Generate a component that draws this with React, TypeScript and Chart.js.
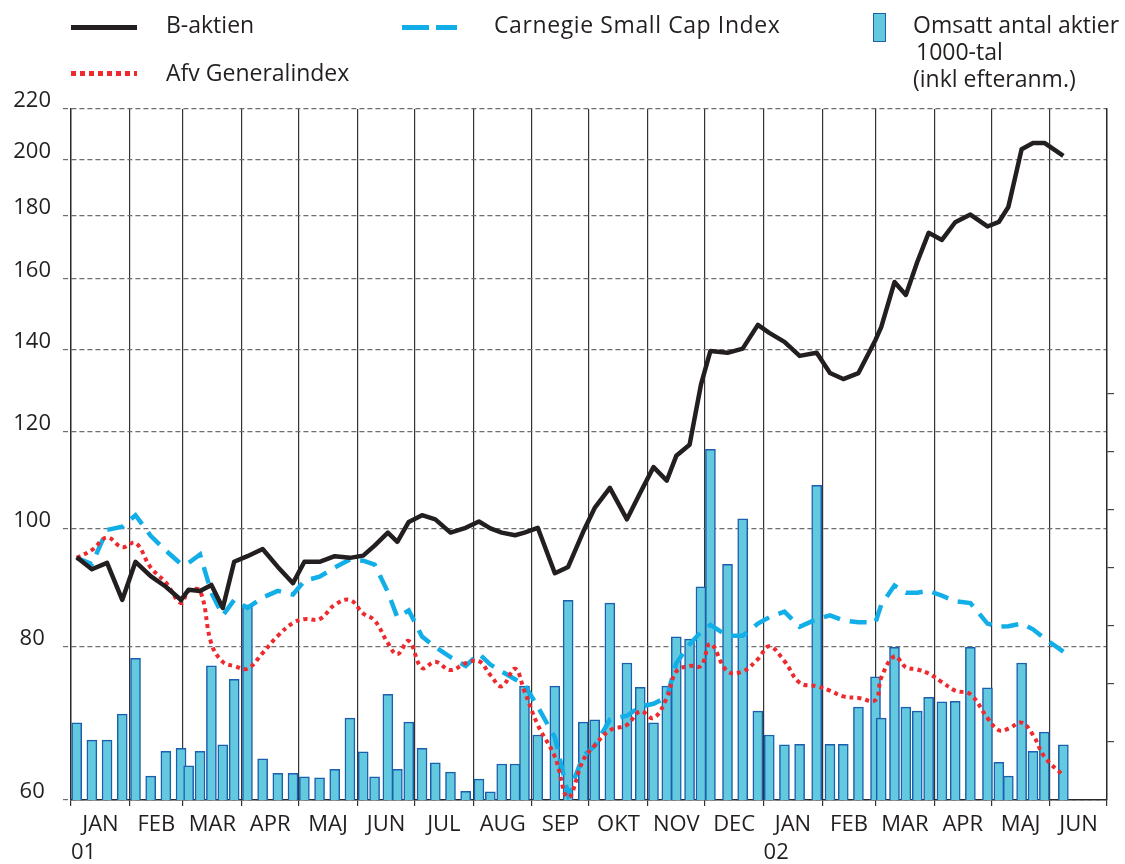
import React, { useEffect, useRef } from 'react';
import { Chart, registerables } from 'chart.js';

Chart.register(...registerables);

const FONT = '"Open Sans", "Noto Sans", sans-serif';
const INK = '#231f20';
const BLUE = '#12aee8';
const RED = '#ee2a2e';
const BAR_FILL = '#63c9df';
const BAR_EDGE = '#1b5fae';

// ---- data ----
const monthLabels = ['JAN', 'FEB', 'MAR', 'APR', 'MAJ', 'JUN', 'JUL', 'AUG', 'SEP', 'OKT', 'NOV', 'DEC', 'JAN', 'FEB', 'MAR', 'APR', 'MAJ', 'JUN'];
const monthDays = [31, 28, 31, 30, 31, 30, 31, 31, 30, 31, 30, 31, 31, 28, 31, 30, 31, 30];
const yearLabels = ['01', '02'];
const yearStartMonth = [0, 12];
const indexTicks = [60, 80, 100, 120, 140, 160, 180, 200, 220];
const volumeTicks = [100, 200, 300, 400, 500, 600, 700];

// observation day (days since 2001-01-01)
const obsDay = [3, 11, 19, 27, 34, 42, 50, 58, 62, 68, 74, 80, 86, 93, 101, 109, 117, 123, 131, 139, 147, 154, 160, 167, 172, 178, 185, 192, 200, 208, 215, 221, 227, 234, 239, 246, 255, 262, 270, 276, 284, 293, 300, 307, 314, 319, 326, 332, 337, 346, 354, 362, 368, 376, 384, 393, 400, 407, 415, 424, 427, 434, 440, 446, 452, 459, 466, 474, 483, 489, 494, 501, 507, 513, 523];

const bAktien = [94.7, 92.6, 93.7, 87.4, 93.9, 91.4, 89.6, 87.4, 89.1, 88.9,
  89.9, 86.1, 93.9, 94.9, 96.2, 93.0, 90.2, 93.9, 93.9, 94.9,
  94.6, 95.0, 96.8, 99.2, 97.5, 101.2, 102.5, 101.7, 99.2, 100.1,
  101.3, 100.0, 99.2, 98.7, 99.2, 100.1, 91.9, 93.0, 99.4, 103.9,
  107.9, 101.7, 106.9, 112.2, 109.4, 114.6, 117.0, 131.0, 139.6, 139.1,
  140.2, 146.6, 144.4, 142.0, 138.3, 139.1, 133.9, 132.4, 133.9, 142.5,
  146.0, 158.9, 155.1, 165.0, 174.3, 172.0, 177.8, 180.4, 176.4, 177.9,
  183.0, 204.0, 206.4, 206.4, 201.4];

const carnegie = [94.6, 93.5, 99.7, 100.3, 102.5, 98.6, 95.9, 93.5, 93.7, 95.2,
  88.6, 84.9, 87.4, 86.1, 87.8, 88.9, 88.3, 90.6, 91.3, 92.9,
  94.3, 94.1, 93.4, 88.7, 84.6, 85.7, 81.6, 80.0, 78.5, 77.2,
  79.0, 77.4, 76.4, 75.3, 74.5, 71.5, 67.5, 60.6, 65.2, 66.4,
  69.8, 70.3, 71.5, 71.9, 72.8, 77.6, 80.4, 82.3, 83.4, 81.7,
  81.7, 83.6, 84.6, 85.5, 83.1, 84.3, 84.9, 84.1, 83.8, 83.8,
  86.6, 89.8, 88.6, 88.6, 88.9, 88.1, 87.2, 86.9, 83.6, 83.1,
  83.2, 83.6, 82.7, 81.3, 79.3];

const afv = [94.6, 96.0, 98.3, 96.5, 97.3, 92.9, 90.3, 86.9, 88.9, 88.9,
  80.5, 77.8, 77.2, 76.8, 79.1, 81.7, 83.7, 84.3, 84.3, 86.6,
  87.4, 85.2, 84.1, 80.6, 78.9, 80.9, 76.9, 77.8, 76.6, 77.6,
  77.9, 75.9, 74.3, 76.8, 73.6, 69.1, 65.1, 60.3, 64.7, 66.5,
  68.4, 69.1, 70.9, 70.0, 72.7, 76.4, 77.2, 77.2, 80.5, 76.4,
  76.4, 78.2, 80.1, 77.9, 74.8, 74.3, 73.7, 72.9, 72.7, 72.4,
  75.5, 78.6, 77.0, 76.7, 76.1, 74.9, 73.7, 73.2, 70.0, 68.4,
  68.6, 69.4, 67.8, 65.1, 62.8];

const volume = [133, 103, 103, 148, 244, 41, 84, 89, 59, 84,
  231, 95, 208, 336, 71, 46, 46, 40, 38, 53,
  141, 83, 40, 182, 53, 134, 89, 64, 48, 15,
  36, 14, 62, 62, 196, 112, 196, 344, 134, 138,
  339, 236, 194, 133, 196, 281, 277, 367, 604, 406,
  484, 153, 112, 95, 96, 542, 96, 96, 160, 212,
  141, 263, 160, 153, 177, 169, 170, 263, 193, 65,
  41, 236, 84, 117, 95];

const seriesNames = ['B-aktien', 'Afv Generalindex', 'Carnegie Small Cap Index'];
const volumeLegend = ['Omsatt antal aktier', '1000-tal', '(inkl efteranm.)'];

export default function App() {
  const ref = useRef<HTMLCanvasElement>(null);

  useEffect(() => {
    const starts: number[] = [];
    let acc = 0;
    monthDays.forEach((d) => { starts.push(acc); acc += d; });
    const total = acc;
    const boundaries = [...starts, total];
    const mids = starts.map((s, i) => s + monthDays[i] / 2);
    const midLabel = new Map<number, string>(mids.map((m, i) => [m, monthLabels[i]]));
    const boundarySet = new Set<number>(boundaries);
    const xTicks = [...boundaries, ...mids].sort((a, b) => a - b);
    const pts = (arr: number[]) => arr.map((v, i) => ({ x: obsDay[i], y: v }));

    const yearPlugin = {
      id: 'yearLabels',
      afterDraw(chart: any) {
        const { ctx, chartArea } = chart;
        const xs = chart.scales.x;
        ctx.save();
        ctx.font = `22px ${FONT}`;
        ctx.fillStyle = INK;
        ctx.textAlign = 'left';
        ctx.textBaseline = 'middle';
        yearLabels.forEach((lab, i) => {
          const px = xs.getPixelForValue(starts[yearStartMonth[i]]);
          ctx.fillText(lab, px, chartArea.bottom + 53);
        });
        ctx.restore();
      },
    };

    const chart = new Chart(ref.current as HTMLCanvasElement, {
      type: 'line',
      data: {
        datasets: [
          {
            type: 'line', label: seriesNames[0], data: pts(bAktien), yAxisID: 'y',
            borderColor: INK, borderWidth: 4.5, pointRadius: 0, tension: 0,
            borderJoinStyle: 'round', order: 1,
          },
          {
            type: 'line', label: seriesNames[1], data: pts(afv), yAxisID: 'y',
            borderColor: RED, borderWidth: 4, pointRadius: 0, tension: 0.4,
            borderDash: [4, 4], borderCapStyle: 'butt', order: 2,
          },
          {
            type: 'line', label: seriesNames[2], data: pts(carnegie), yAxisID: 'y',
            borderColor: BLUE, borderWidth: 4.5, pointRadius: 0, tension: 0,
            borderDash: [17, 10], borderCapStyle: 'butt', order: 3,
          },
          {
            type: 'bar', label: volumeLegend.join(' '), data: pts(volume), yAxisID: 'y2',
            backgroundColor: BAR_FILL, borderColor: BAR_EDGE, borderWidth: 1.5,
            barThickness: 10, order: 10,
          } as any,
        ],
      },
      options: {
        responsive: false,
        animation: false,
        devicePixelRatio: 1,
        layout: { padding: { top: 109, left: 0, right: 0, bottom: 0 } },
        plugins: { legend: { display: false }, tooltip: { enabled: false } },
        scales: {
          x: {
            type: 'linear', min: 0, max: total, offset: false,
            afterBuildTicks: (s: any) => { s.ticks = xTicks.map((v) => ({ value: v })); },
            afterFit: (s: any) => { s.height = 64; },
            grid: {
              offset: false,
              color: (c: any) => (boundarySet.has(c.tick?.value) ? '#333333' : 'rgba(0,0,0,0)'),
              lineWidth: 1.2, tickLength: 6,
            },
            border: { display: true, color: '#2a2a2a', width: 1.4 },
            ticks: {
              autoSkip: false, maxRotation: 0, minRotation: 0, padding: 6,
              color: INK, font: { family: FONT, size: 22 },
              callback: (v: any) => midLabel.get(Number(v)) ?? '',
            },
          },
          y: {
            type: 'logarithmic', position: 'left', min: 60, max: 220,
            afterBuildTicks: (s: any) => { s.ticks = indexTicks.map((v) => ({ value: v })); },
            afterFit: (s: any) => { s.width = 71; },
            grid: {
              color: '#6e6e6e', lineWidth: 1.2, tickBorderDash: [5, 3], tickLength: 8,
            },
            border: { display: true, color: '#2a2a2a', width: 1.4, dash: [5, 3] },
            ticks: {
              crossAlign: 'center', padding: 12, labelOffset: -8,
              color: INK, font: { family: FONT, size: 22 },
              callback: (v: any) => String(v),
            },
          },
          y2: {
            type: 'linear', position: 'right', min: 0, max: 1190,
            afterBuildTicks: (s: any) => { s.ticks = volumeTicks.map((v) => ({ value: v })); },
            afterFit: (s: any) => { s.width = 18; },
            grid: { drawOnChartArea: false, color: '#444444', lineWidth: 1.2, tickLength: 7 },
            border: { display: true, color: '#2a2a2a', width: 1.4 },
            ticks: { display: false },
          },
        },
      } as any,
      plugins: [yearPlugin],
    });
    return () => chart.destroy();
  }, []);

  const text: React.CSSProperties = {
    position: 'absolute', fontFamily: FONT, fontSize: 23, lineHeight: '27px',
    color: INK, whiteSpace: 'nowrap',
  };

  return (
    <div style={{ position: 'absolute', left: 0, top: 0, width: 1125, height: 864, background: '#fff', overflow: 'hidden' }}>
      <canvas ref={ref} width={1125} height={864} style={{ position: 'absolute', left: 0, top: 0 }} />
      {/* legend */}
      <div style={{ position: 'absolute', left: 71, top: 25, width: 66, height: 5, background: INK }} />
      <div style={{ ...text, left: 166, top: 11 }}>{seriesNames[0]}</div>
      <div style={{
        position: 'absolute', left: 71, top: 71, width: 66, height: 5,
        background: `repeating-linear-gradient(90deg, ${RED} 0 5px, transparent 5px 9px)`,
      }} />
      <div style={{ ...text, left: 166, top: 59 }}>{seriesNames[1]}</div>
      <div style={{ position: 'absolute', left: 402, top: 25, width: 27, height: 5, background: BLUE }} />
      <div style={{ position: 'absolute', left: 436, top: 25, width: 21, height: 5, background: BLUE }} />
      <div style={{ ...text, left: 494, top: 11, letterSpacing: '0.6px' }}>{seriesNames[2]}</div>
      <div style={{
        position: 'absolute', left: 873, top: 13, width: 13, height: 29,
        background: BAR_FILL, border: `1.5px solid ${BAR_EDGE}`, boxSizing: 'border-box',
      }} />
      <div style={{ ...text, left: 913, top: 11 }}>{volumeLegend[0]}</div>
      <div style={{ ...text, left: 916, top: 38 }}>{volumeLegend[1]}</div>
      <div style={{ ...text, left: 913, top: 65 }}>{volumeLegend[2]}</div>
    </div>
  );
}
